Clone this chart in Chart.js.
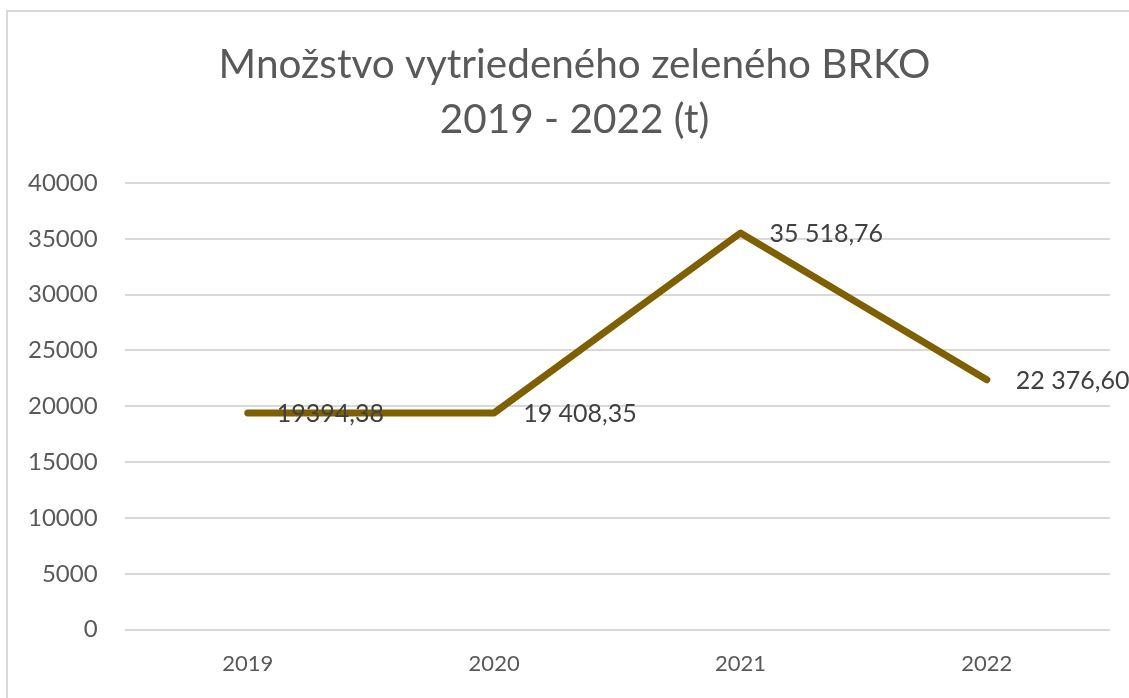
<!DOCTYPE html>
<html>
<head>
<meta charset="utf-8">
<script src="https://cdn.jsdelivr.net/npm/chart.js@4.4.1/dist/chart.umd.min.js"></script>
<style>
html,body{margin:0;padding:0;background:#fff;}
#wrap{position:relative;width:1129px;height:698px;}
</style>
</head>
<body>
<div id="wrap"><canvas id="c" width="1129" height="698"></canvas></div>
<script>
const titleLines = ['Množstvo vytriedeného zeleného BRKO', '2019 - 2022 (t)'];
const years = ['2019', '2020', '2021', '2022'];
const amounts = [19394.38, 19408.35, 35518.76, 22376.60];
const valueLabels = ['19394,38', '19 408,35', '35 518,76', '22 376,60'];
const yTicks = [0, 5000, 10000, 15000, 20000, 25000, 30000, 35000, 40000];

const frame = {
  id: 'frame',
  beforeDraw(chart) {
    const ctx = chart.ctx;
    ctx.save();
    ctx.fillStyle = '#fff';
    ctx.fillRect(0, 0, chart.width, chart.height);
    ctx.strokeStyle = '#d9d9d9';
    ctx.lineWidth = 2;
    ctx.beginPath();
    ctx.moveTo(7, chart.height);
    ctx.lineTo(7, 11);
    ctx.lineTo(chart.width, 11);
    ctx.stroke();
    ctx.restore();
  },
  afterDraw(chart) {
    const ctx = chart.ctx;
    ctx.save();
    ctx.font = '40.5px Lato';
    ctx.fillStyle = '#595959';
    ctx.textAlign = 'center';
    ctx.textBaseline = 'middle';
    const cx = chart.width / 2 + 10;
    titleLines.forEach((t, i) => ctx.fillText(t, cx, 65 + i * 55));
    ctx.restore();
  }
};

const pointLabels = {
  id: 'pointLabels',
  afterDatasetsDraw(chart) {
    const ctx = chart.ctx;
    const meta = chart.getDatasetMeta(0);
    ctx.save();
    ctx.font = '25px Lato';
    ctx.fillStyle = '#404040';
    ctx.textAlign = 'left';
    ctx.textBaseline = 'middle';
    meta.data.forEach((pt, i) => {
      ctx.fillText(valueLabels[i], pt.x + 29, pt.y + 1);
    });
    ctx.restore();
  }
};

new Chart(document.getElementById('c'), {
  type: 'line',
  data: {
    labels: years,
    datasets: [{
      data: amounts,
      borderColor: '#7f6000',
      borderWidth: 7,
      borderCapStyle: 'round',
      borderJoinStyle: 'round',
      pointRadius: 0,
      pointHoverRadius: 0,
      tension: 0,
      fill: false
    }]
  },
  options: {
    responsive: false,
    animation: false,
    events: [],
    layout: { padding: { left: 1, right: 19, top: 183, bottom: 0 } },
    plugins: {
      legend: { display: false },
      tooltip: { enabled: false },
      title: { display: false }
    },
    scales: {
      x: {
        offset: true,
        grid: { display: false, drawTicks: false },
        border: { display: false },
        ticks: { color: '#595959', font: { family: 'Lato', size: 22 }, padding: 21 }
      },
      y: {
        min: 0,
        max: 40000,
        afterBuildTicks(scale) { scale.ticks = yTicks.map(v => ({ value: v })); },
        grid: { color: '#d9d9d9', lineWidth: 2, drawTicks: false },
        border: { display: false },
        ticks: { color: '#595959', font: { family: 'Lato', size: 24 }, padding: 27, callback: v => String(v) }
      }
    }
  },
  plugins: [frame, pointLabels]
});
</script>
</body>
</html>
